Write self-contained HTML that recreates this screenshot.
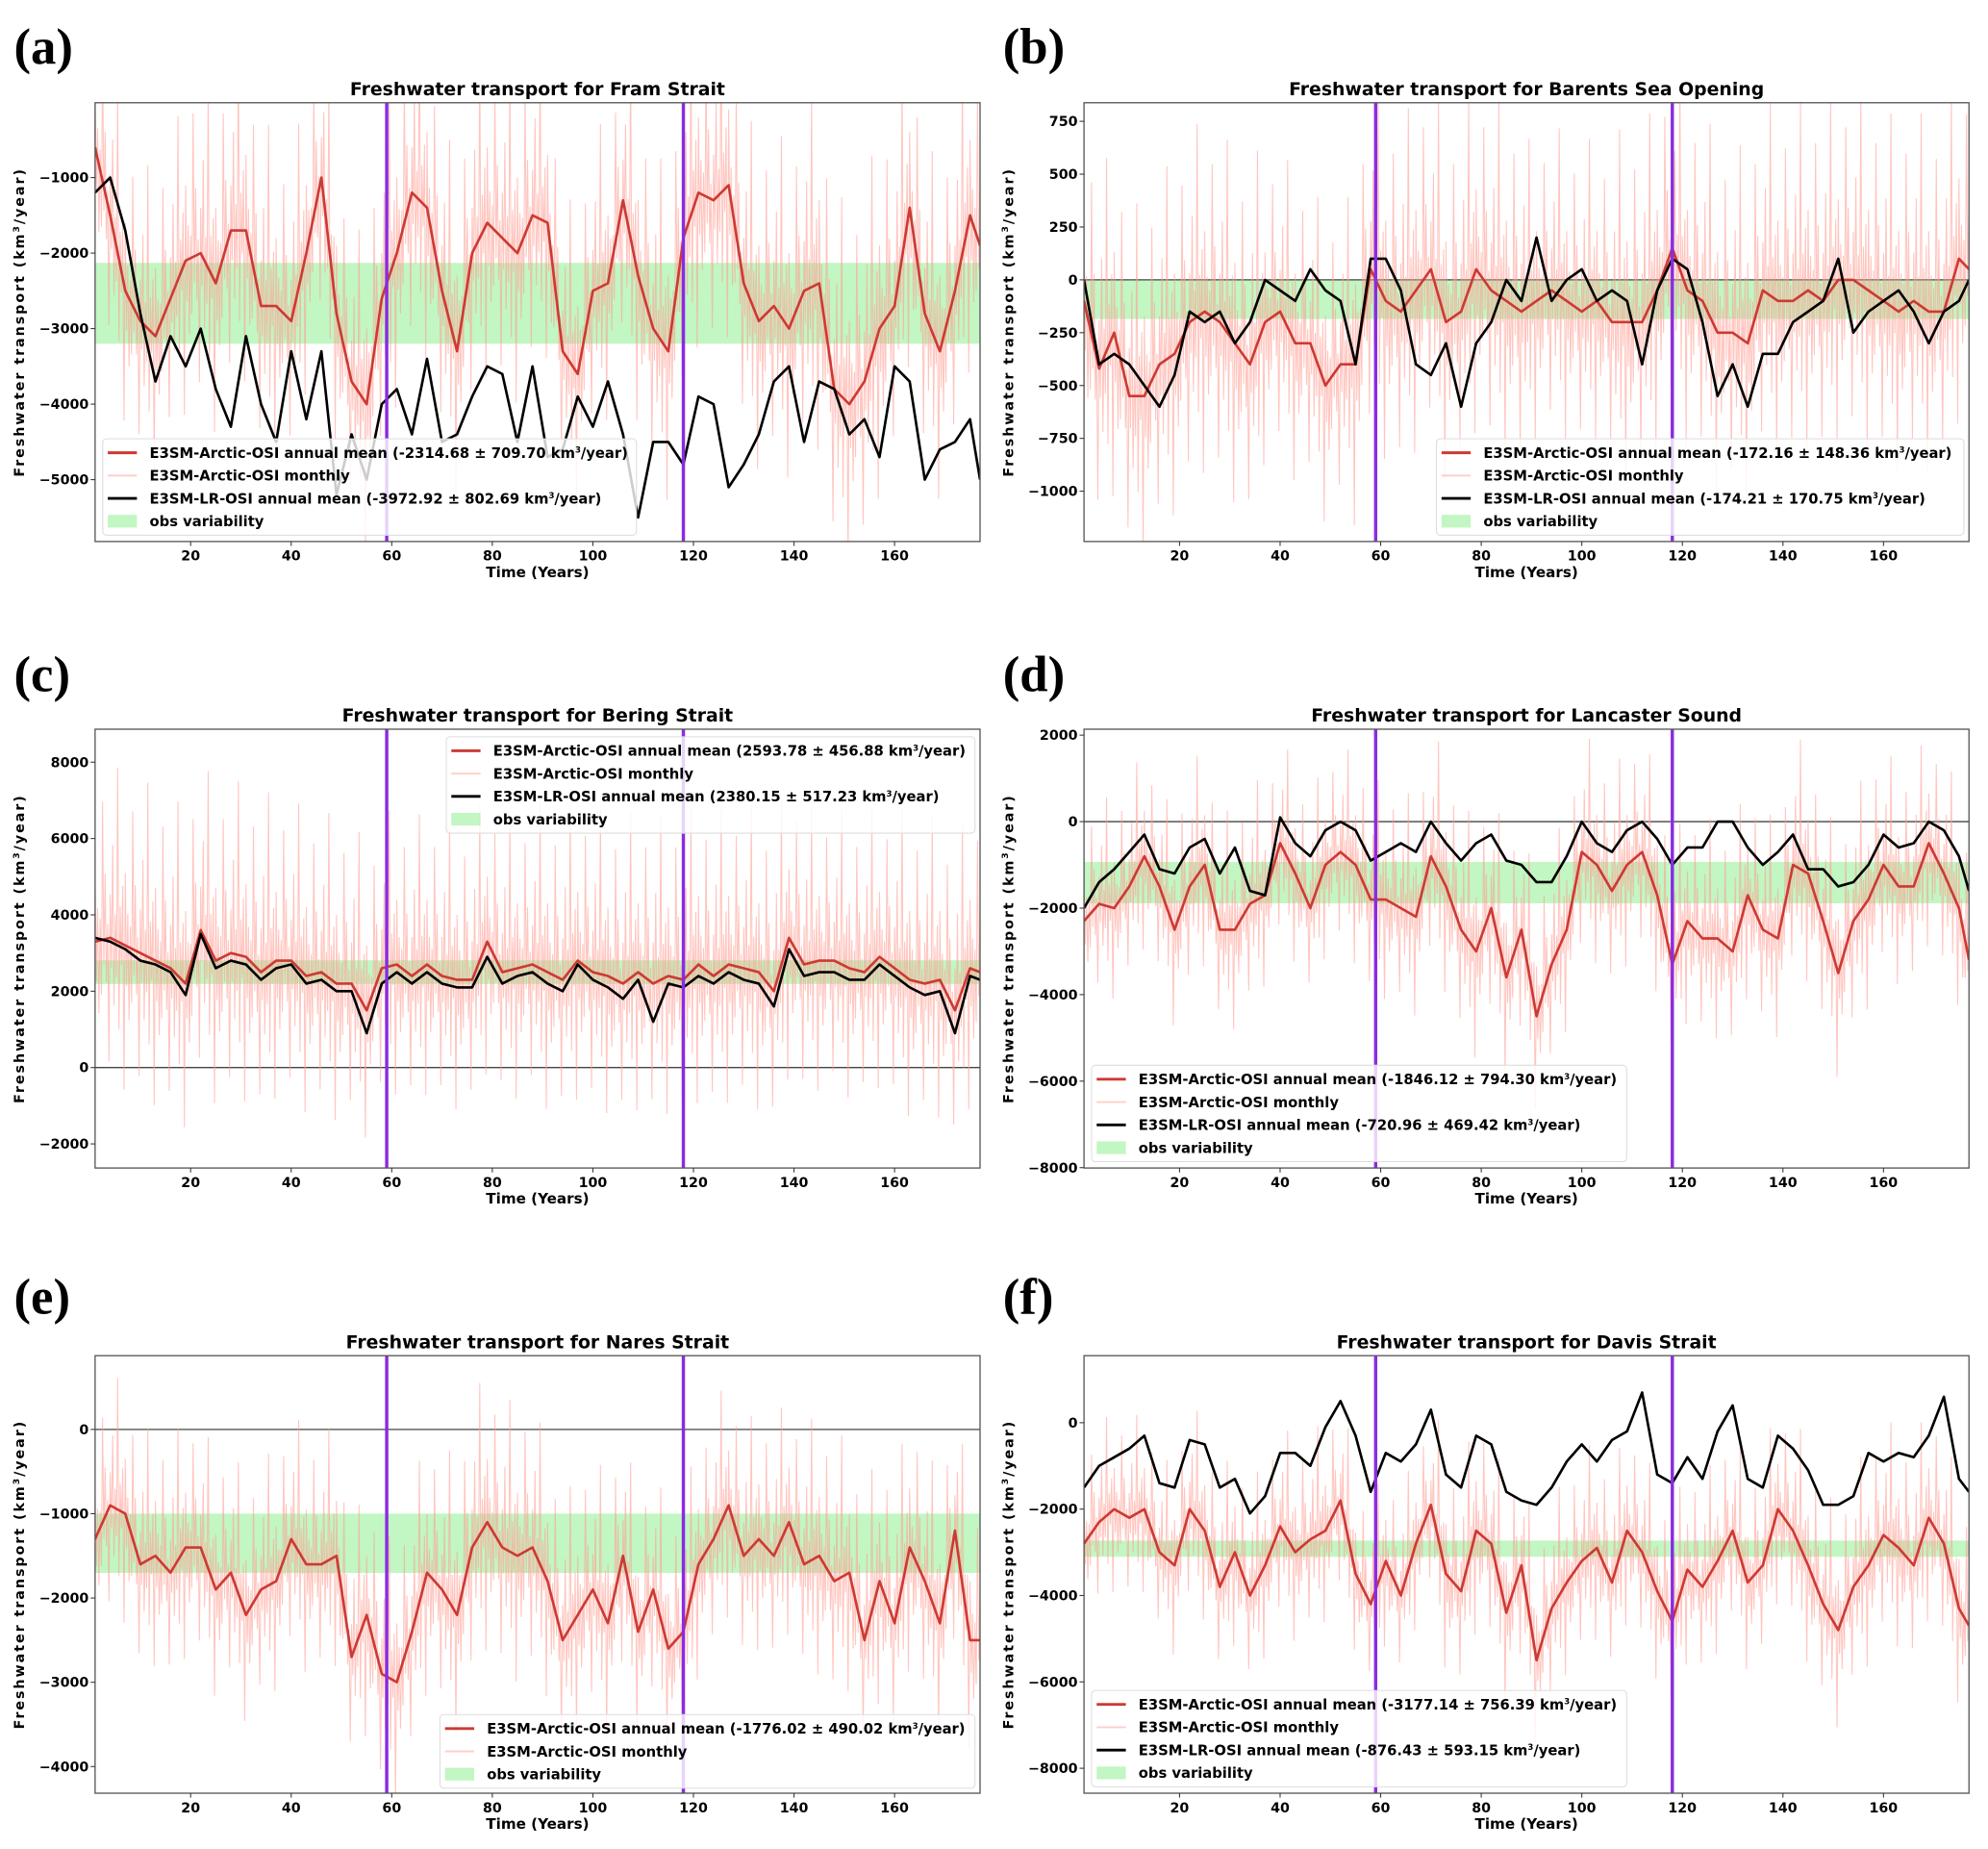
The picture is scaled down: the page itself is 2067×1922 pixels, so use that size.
<!DOCTYPE html>
<html><head><meta charset="utf-8"><title>Freshwater transport</title>
<style>html,body{margin:0;padding:0;background:#fff}svg{display:block}
text{font-family:"DejaVu Sans","Liberation Sans",sans-serif;font-weight:bold}</style></head>
<body>
<svg id="fig" xmlns="http://www.w3.org/2000/svg" width="2067" height="1922" viewBox="0 0 1568 1458" preserveAspectRatio="none"></svg>
<script>
// shared categories (years, 3-year sampling)
const years = [1,4,7,10,13,16,19,22,25,28,31,34,37,40,43,46,49,52,55,58,61,64,67,70,73,76,79,82,85,88,91,94,97,100,103,106,109,112,115,118,121,124,127,130,133,136,139,142,145,148,151,154,157,160,163,166,169,172,175,177];
const xTicks = [20,40,60,80,100,120,140,160];
const cutYears = [59,118];

// (a) Fram Strait
const framRed = [-600,-1500,-2500,-2900,-3100,-2600,-2100,-2000,-2400,-1700,-1700,-2700,-2700,-2900,-2000,-1000,-2800,-3700,-4000,-2600,-2000,-1200,-1400,-2500,-3300,-2000,-1600,-1800,-2000,-1500,-1600,-3300,-3600,-2500,-2400,-1300,-2300,-3000,-3300,-1800,-1200,-1300,-1100,-2400,-2900,-2700,-3000,-2500,-2400,-3800,-4000,-3700,-3000,-2700,-1400,-2800,-3300,-2500,-1500,-1900];
const framBlack = [-1200,-1000,-1700,-2800,-3700,-3100,-3500,-3000,-3800,-4300,-3100,-4000,-4500,-3300,-4200,-3300,-5200,-4400,-5000,-4000,-3800,-4400,-3400,-4500,-4400,-3900,-3500,-3600,-4500,-3500,-4700,-4600,-3900,-4300,-3700,-4400,-5500,-4500,-4500,-4800,-3900,-4000,-5100,-4800,-4400,-3700,-3500,-4500,-3700,-3800,-4400,-4200,-4700,-3500,-3700,-5000,-4600,-4500,-4200,-5000];
const framMonthlyAmp = [900,1000,900,1000,1000,900,1000,1000,1100,1000];
const framObs = [-3200,-2130];
const framTicks = [-1000,-2000,-3000,-4000,-5000];

// (b) Barents Sea Opening
const bsoRed = [-100,-420,-250,-550,-550,-400,-350,-200,-150,-200,-300,-400,-200,-150,-300,-300,-500,-400,-400,50,-100,-150,-50,50,-200,-150,50,-50,-100,-150,-100,-50,-100,-150,-100,-200,-200,-200,-50,150,-50,-100,-250,-250,-300,-50,-100,-100,-50,-100,0,0,-50,-100,-150,-100,-150,-150,100,50];
const bsoBlack = [0,-400,-350,-400,-500,-600,-450,-150,-200,-150,-300,-200,0,-50,-100,50,-50,-100,-400,100,100,-50,-400,-450,-300,-600,-300,-200,0,-100,200,-100,0,50,-100,-50,-100,-400,-50,100,50,-200,-550,-400,-600,-350,-350,-200,-150,-100,100,-250,-150,-100,-50,-150,-300,-150,-100,0];
const bsoMonthlyAmp = [380,380,330,380,380,330,380,380,380,380];
const bsoObs = [-185,0];
const bsoTicks = [750,500,250,0,-250,-500,-750,-1000];

// (c) Bering Strait
const berRed = [3300,3400,3200,3000,2800,2600,2200,3600,2800,3000,2900,2500,2800,2800,2400,2500,2200,2200,1500,2600,2700,2400,2700,2400,2300,2300,3300,2500,2600,2700,2500,2300,2800,2500,2400,2200,2500,2200,2400,2300,2700,2400,2700,2600,2500,2000,3400,2700,2800,2800,2600,2500,2900,2600,2300,2200,2300,1500,2600,2500];
const berBlack = [3400,3300,3100,2800,2700,2500,1900,3500,2600,2800,2700,2300,2600,2700,2200,2300,2000,2000,900,2200,2500,2200,2500,2200,2100,2100,2900,2200,2400,2500,2200,2000,2700,2300,2100,1800,2300,1200,2200,2100,2400,2200,2500,2300,2200,1600,3100,2400,2500,2500,2300,2300,2700,2400,2100,1900,2000,900,2400,2300];
const berMonthlyAmp = [1900,1900,1800,1700,1700,1800,1800,1800,1700,1800];
const berObs = [2190,2810];
const berTicks = [8000,6000,4000,2000,0,-2000];

// (d) Lancaster Sound
const lanRed = [-2300,-1900,-2000,-1500,-800,-1500,-2500,-1500,-1000,-2500,-2500,-1900,-1700,-500,-1200,-2000,-1000,-700,-1000,-1800,-1800,-2000,-2200,-800,-1500,-2500,-3000,-2000,-3600,-2500,-4500,-3300,-2500,-700,-1000,-1600,-1000,-700,-1700,-3300,-2300,-2700,-2700,-3000,-1700,-2500,-2700,-1000,-1200,-2300,-3500,-2300,-1800,-1000,-1500,-1500,-500,-1200,-2000,-3200];
const lanBlack = [-2000,-1400,-1100,-700,-300,-1100,-1200,-600,-400,-1200,-600,-1600,-1700,100,-500,-800,-200,0,-200,-900,-700,-500,-700,0,-500,-900,-500,-300,-900,-1000,-1400,-1400,-800,0,-500,-700,-200,0,-400,-1000,-600,-600,0,0,-600,-1000,-700,-300,-1100,-1100,-1500,-1400,-1000,-300,-600,-500,0,-200,-800,-1600];
const lanMonthlyAmp = [1050,1150,1050,1150,1250,1150,1150,1150,1250,1150];
const lanObs = [-1888,-933];
const lanTicks = [2000,0,-2000,-4000,-6000,-8000];

// (e) Nares Strait
const narRed = [-1300,-900,-1000,-1600,-1500,-1700,-1400,-1400,-1900,-1700,-2200,-1900,-1800,-1300,-1600,-1600,-1500,-2700,-2200,-2900,-3000,-2400,-1700,-1900,-2200,-1400,-1100,-1400,-1500,-1400,-1800,-2500,-2200,-1900,-2300,-1500,-2400,-1900,-2600,-2400,-1600,-1300,-900,-1500,-1300,-1500,-1100,-1600,-1500,-1800,-1700,-2500,-1800,-2300,-1400,-1800,-2300,-1200,-2500,-2500];
const narMonthlyAmp = [650,650,650,700,750,700,650,650,700,700];
const narObs = [-1702,-999];
const narTicks = [0,-1000,-2000,-3000,-4000];

// (f) Davis Strait
const davRed = [-2800,-2300,-2000,-2200,-2000,-3000,-3300,-2000,-2500,-3800,-3000,-4000,-3300,-2400,-3000,-2700,-2500,-1800,-3500,-4200,-3200,-4000,-2800,-1900,-3500,-3900,-2500,-2800,-4400,-3300,-5500,-4300,-3700,-3200,-2900,-3700,-2500,-3000,-3900,-4600,-3400,-3800,-3200,-2500,-3700,-3300,-2000,-2500,-3300,-4200,-4800,-3800,-3300,-2600,-2900,-3300,-2200,-2800,-4300,-4700];
const davBlack = [-1500,-1000,-800,-600,-300,-1400,-1500,-400,-500,-1500,-1300,-2100,-1700,-700,-700,-1000,-100,500,-300,-1600,-700,-900,-500,300,-1200,-1500,-300,-500,-1600,-1800,-1900,-1500,-900,-500,-900,-400,-200,700,-1200,-1400,-800,-1300,-200,400,-1300,-1500,-300,-600,-1100,-1900,-1900,-1700,-700,-900,-700,-800,-300,600,-1300,-1600];
const davMonthlyAmp = [950,1050,1050,950,1150,1050,1050,1050,1150,1150];
const davObs = [-3103,-2729];
const davTicks = [0,-2000,-4000,-6000,-8000];

const NS = "http://www.w3.org/2000/svg";
const svg = document.getElementById('fig');
function mk(tag, attrs, parent) {
  const e = document.createElementNS(NS, tag);
  for (const k in attrs) e.setAttribute(k, attrs[k]);
  (parent || svg).appendChild(e);
  return e;
}
function fmt(v){ return v < 0 ? '\u2212' + Math.abs(v) : String(v); }
function interp(arr, t){
  if (t <= years[0]) return arr[0];
  for (let i=1;i<years.length;i++){
    if (t <= years[i]) { const f=(t-years[i-1])/(years[i]-years[i-1]); return arr[i-1]+(arr[i]-arr[i-1])*f; }
  }
  return arr[arr.length-1];
}
// drawing style pattern for monthly spikes
const PAT = [1,-0.55,0.45,-1,0.3,-0.75,1.9,-0.35,0.9,-0.6,0.2,-1.7,0.6,-0.4,1.3,-0.9,0.35,-0.5,2.4,-1.2,0.5,-0.3,0.8,-2.0];

function panel(cfg){
  const g = mk('g', {});
  
  
  const L=cfg.x0, R=cfg.x1, T=cfg.y0, B=cfg.y1;
  const xs = t => L + (t - 1) / (177 - 1) * (R - L);
  const ys = v => T + (cfg.ymax - v) / (cfg.ymax - cfg.ymin) * (B - T);
  const lt = mk('text', {x: cfg.lx, y: cfg.ly, 'font-size': 40, style:'font-family:"Liberation Serif",serif'}, g);
  lt.textContent = cfg.letter;
  
  
  const tt = mk('text', {x:(L+R)/2, y:T-6, 'font-size':14.3, 'text-anchor':'middle'}, g);
  tt.textContent = 'Freshwater transport for ' + cfg.title;
  
  
  const cid = 'clip' + cfg.letter.replace(/[()]/g,'');
  const cp = mk('clipPath', {id: cid}, g);
  mk('rect', {x:L, y:T, width:R-L, height:B-T}, cp);
  const plot = mk('g', {'clip-path': 'url(#'+cid+')'}, g);
  const ob = mk('rect', {x:L, y:ys(cfg.obs[1]), width:R-L, height:ys(cfg.obs[0])-ys(cfg.obs[1]), fill:'#90ee90', 'fill-opacity':0.55}, plot);
  
  
  if (cfg.zero) {
    const zl = mk('line', {x1:L, x2:R, y1:ys(0), y2:ys(0), stroke:'#444', 'stroke-width':1}, plot);
    
    
  }
  const amp = cfg.amp;
  let pts = [], k = 0;
  for (let t=1; t<=177; t+=0.25, k++){
    const bi = Math.min(amp.length-1, Math.floor((t-1)/(176/amp.length)));
    const v = interp(cfg.red, t) + amp[bi] * PAT[k % PAT.length];
    pts.push(xs(t).toFixed(1)+','+ys(v).toFixed(1));
  }
  const mo = mk('polyline', {points: pts.join(' '), fill:'none', stroke:'#ff9f94', 'stroke-opacity':0.6, 'stroke-width':0.8}, plot);
  
  
  function line(arr, col, w, nm){
    const p = arr.map((v,i)=> xs(years[i]).toFixed(1)+','+ys(v).toFixed(1)).join(' ');
    const pl = mk('polyline', {points:p, fill:'none', stroke:col, 'stroke-width':w, 'stroke-linejoin':'round'}, plot);
    
    
  }
  line(cfg.red, '#cc3a33', 2.0, 'arctic-osi-annual-mean-line');
  if (cfg.black) line(cfg.black, '#000', 2.0, 'lr-osi-annual-mean-line');
  cutYears.forEach(c=>{
    const pl = mk('line', {x1:xs(c), x2:xs(c), y1:T, y2:B, stroke:'#8a2be2', 'stroke-width':2.6}, plot);
    
    
  });
  const fr = mk('rect', {x:L, y:T, width:R-L, height:B-T, fill:'none', stroke:'#555', 'stroke-width':1}, g);
  
  
  cfg.ticks.forEach(v=>{
    const y = ys(v);
    mk('line', {x1:L-3.5, x2:L, y1:y, y2:y, stroke:'#333', 'stroke-width':0.8}, g);
    const tl = mk('text', {x:L-5, y:y+3.8, 'font-size':10.8, 'text-anchor':'end'}, g);
    tl.textContent = fmt(v);
    
    
  });
  xTicks.forEach(v=>{
    const x = xs(v);
    mk('line', {x1:x, x2:x, y1:B, y2:B+3.5, stroke:'#333', 'stroke-width':0.8}, g);
    const tl = mk('text', {x:x, y:B+15, 'font-size':10.8, 'text-anchor':'middle'}, g);
    tl.textContent = v;
    
    
  });
  const xl = mk('text', {x:(L+R)/2, y:B+28, 'font-size':11.5, 'text-anchor':'middle'}, g);
  xl.textContent = 'Time (Years)';
  
  
  const yl = mk('text', {x:0, y:0, 'font-size':10.8, 'text-anchor':'middle', 'letter-spacing':'1.5', transform:'translate('+(L-56)+','+((T+B)/2)+') rotate(-90)'}, g);
  yl.innerHTML = 'Freshwater transport (km<tspan font-size="7" dy="-4">3</tspan><tspan dy="4">/year)</tspan>';
  
  
  const lg = cfg.legend;
  const lgG = mk('g', {}, g);
  
  
  const rows = lg.rows;
  const h = rows.length * 18 + 4;
  mk('rect', {x:lg.x, y:lg.y, width:lg.w, height:h, rx:3, fill:'#fff', 'fill-opacity':0.8, stroke:'#ddd', 'stroke-width':0.8}, lgG);
  rows.forEach((r,i)=>{
    const cy = lg.y + 11 + i*18;
    if (r.kind === 'patch') {
      mk('rect', {x:lg.x+4, y:cy-5, width:23, height:10, fill:'#90ee90', 'fill-opacity':0.55}, lgG);
    } else {
      mk('line', {x1:lg.x+4, x2:lg.x+27, y1:cy, y2:cy, stroke:r.col, 'stroke-width':r.w, 'stroke-opacity':r.op||1}, lgG);
    }
    const tx = mk('text', {x:lg.x+37, y:cy+4, 'font-size':11.2}, lgG);
    tx.innerHTML = r.label;
    
    
  });
}
function rowsFor(a, b){
  const r = [
    {col:'#cc3a33', w:2.2, label:'E3SM-Arctic-OSI annual mean (' + a + ' km<tspan font-size="6.5" dy="-4">3</tspan><tspan dy="4">/year)</tspan>'},
    {col:'#ff9f94', w:1.5, op:0.5, label:'E3SM-Arctic-OSI monthly'}];
  if (b) r.push({col:'#000', w:2.2, label:'E3SM-LR-OSI annual mean (' + b + ' km<tspan font-size="6.5" dy="-4">3</tspan><tspan dy="4">/year)</tspan>'});
  r.push({kind:'patch', label:'obs variability'});
  return r;
}
const LX=75, LR=773, RX=855, RR=1553;
panel({name:'panel-fram-strait', letter:'(a)', lx:11, ly:50, title:'Fram Strait', x0:LX, x1:LR, y0:81, y1:427, ymax:-9, ymin:-5819, ticks:framTicks, obs:framObs, red:framRed, black:framBlack, amp:framMonthlyAmp, zero:false,
  legend:{x:81, y:346, w:421, rows:rowsFor('-2314.68 ± 709.70','-3972.92 ± 802.69')}});
panel({name:'panel-barents-sea-opening', letter:'(b)', lx:791, ly:50, title:'Barents Sea Opening', x0:RX, x1:RR, y0:81, y1:427, ymax:838, ymin:-1238, ticks:bsoTicks, obs:bsoObs, red:bsoRed, black:bsoBlack, amp:bsoMonthlyAmp, zero:true,
  legend:{x:1133, y:346, w:416, rows:rowsFor('-172.16 ± 148.36','-174.21 ± 170.75')}});
panel({name:'panel-bering-strait', letter:'(c)', lx:11, ly:545, title:'Bering Strait', x0:LX, x1:LR, y0:575, y1:921, ymax:8864, ymin:-2631, ticks:berTicks, obs:berObs, red:berRed, black:berBlack, amp:berMonthlyAmp, zero:true,
  legend:{x:352, y:581, w:417, rows:rowsFor('2593.78 ± 456.88','2380.15 ± 517.23')}});
panel({name:'panel-lancaster-sound', letter:'(d)', lx:791, ly:545, title:'Lancaster Sound', x0:RX, x1:RR, y0:575, y1:921, ymax:2137, ymin:-8008, ticks:lanTicks, obs:lanObs, red:lanRed, black:lanBlack, amp:lanMonthlyAmp, zero:true,
  legend:{x:861, y:840, w:422, rows:rowsFor('-1846.12 ± 794.30','-720.96 ± 469.42')}});
panel({name:'panel-nares-strait', letter:'(e)', lx:11, ly:1036, title:'Nares Strait', x0:LX, x1:LR, y0:1069, y1:1414, ymax:875, ymin:-4316, ticks:narTicks, obs:narObs, red:narRed, black:null, amp:narMonthlyAmp, zero:true,
  legend:{x:347, y:1352, w:422, rows:rowsFor('-1776.02 ± 490.02', null)}});
panel({name:'panel-davis-strait', letter:'(f)', lx:791, ly:1036, title:'Davis Strait', x0:RX, x1:RR, y0:1069, y1:1414, ymax:1552, ymin:-8577, ticks:davTicks, obs:davObs, red:davRed, black:davBlack, amp:davMonthlyAmp, zero:false,
  legend:{x:861, y:1333, w:422, rows:rowsFor('-3177.14 ± 756.39','-876.43 ± 593.15')}});
</script>
</body></html>
